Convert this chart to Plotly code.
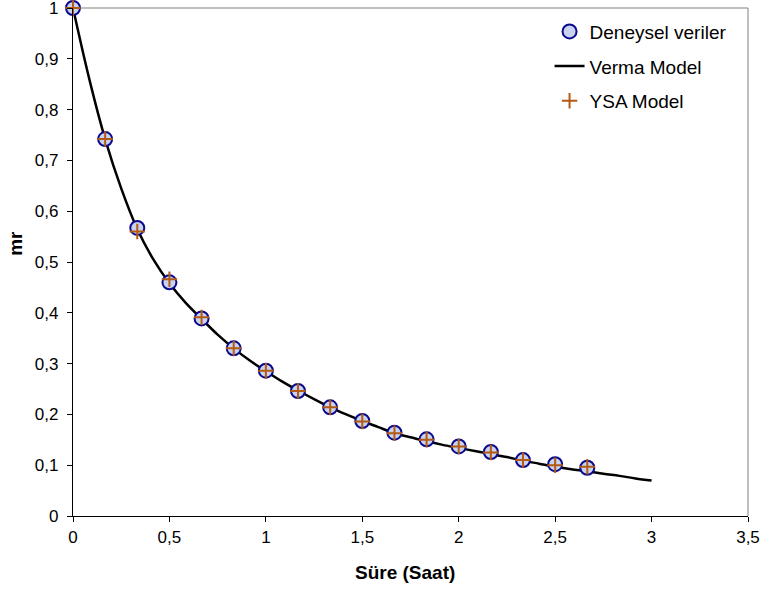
import plotly.graph_objects as go

# Experimental times (hours) and values
t_exp = [0, 0.1667, 0.3333, 0.5, 0.6667, 0.8333, 1.0, 1.1667, 1.3333, 1.5,
         1.6667, 1.8333, 2.0, 2.1667, 2.3333, 2.5, 2.6667]
mr_exp = [1.0, 0.742, 0.567, 0.460, 0.389, 0.330, 0.286, 0.246, 0.214, 0.187,
          0.164, 0.151, 0.137, 0.126, 0.110, 0.102, 0.095]
mr_ysa = [1.0, 0.742, 0.560, 0.466, 0.391, 0.330, 0.286, 0.246, 0.214, 0.186,
          0.163, 0.150, 0.137, 0.125, 0.110, 0.100, 0.097]

# Verma model curve
t_model = [0, 0.0833, 0.1667, 0.25, 0.3333, 0.4167, 0.5, 0.5833, 0.6667, 0.75,
           0.8333, 0.9167, 1.0, 1.0833, 1.1667, 1.25, 1.3333, 1.4167, 1.5, 1.5833,
           1.6667, 1.75, 1.8333, 1.9167, 2.0, 2.0833, 2.1667, 2.25, 2.3333, 2.4167,
           2.5, 2.5833, 2.6667, 2.75, 2.8333, 2.9167, 3.0]
mr_model = [1.0, 0.862, 0.742, 0.645, 0.565, 0.505, 0.458, 0.420, 0.388, 0.357,
            0.330, 0.306, 0.285, 0.265, 0.247, 0.230, 0.214, 0.200, 0.187, 0.175,
            0.163, 0.155, 0.147, 0.140, 0.134, 0.128, 0.122, 0.116, 0.109, 0.103,
            0.097, 0.092, 0.088, 0.083, 0.079, 0.074, 0.070]

# Tick positions
x_ticks = [0, 0.5, 1, 1.5, 2, 2.5, 3, 3.5]
y_ticks = [0, 0.1, 0.2, 0.3, 0.4, 0.5, 0.6, 0.7, 0.8, 0.9, 1]

x_title = "Süre (Saat)"
y_title = "mr"

FONT = "Liberation Sans, Arial, sans-serif"

fig = go.Figure()
fig.add_trace(go.Scatter(
    x=t_model, y=mr_model, mode="lines", name="Verma Model",
    line=dict(color="black", width=2.5, shape="spline"),
    cliponaxis=False, legendgroup="b", legendrank=2))
fig.add_trace(go.Scatter(
    x=t_exp, y=mr_exp, mode="markers", name="Deneysel veriler",
    marker=dict(symbol="circle", size=14, color="#c9d3ef",
                line=dict(color="#0a0a8c", width=2)),
    cliponaxis=False, legendgroup="a", legendrank=1))
fig.add_trace(go.Scatter(
    x=t_exp, y=mr_ysa, mode="markers", name="YSA Model",
    marker=dict(symbol="cross-thin", size=11,
                line=dict(color="#b35a14", width=2)),
    cliponaxis=False, legendgroup="c", legendrank=3))

fig.update_layout(
    width=766, height=596,
    margin=dict(l=73, r=18, t=8, b=80),
    paper_bgcolor="white", plot_bgcolor="white",
    separators=",.",
    font=dict(family=FONT, size=17, color="black"),
    showlegend=True,
    legend=dict(x=0.706, y=0.991, xanchor="left", yanchor="top",
                bgcolor="rgba(0,0,0,0)", font=dict(size=19),
                tracegroupgap=7, traceorder="grouped"),
    xaxis=dict(range=[0, 3.5], tickmode="array", tickvals=x_ticks,
               showgrid=False, zeroline=False, automargin=False,
               ticklabeloverflow="allow",
               showline=True, linecolor="black", linewidth=1.2,
               ticks="outside", ticklen=5, tickcolor="black"),
    yaxis=dict(range=[0, 1], tickmode="array", tickvals=y_ticks,
               showgrid=False, zeroline=False, automargin=False,
               ticklabeloverflow="allow", ticklabelstandoff=5,
               showline=True, linecolor="black", linewidth=1.2,
               ticks="outside", ticklen=5, tickcolor="black"),
    shapes=[
        dict(type="line", xref="paper", yref="paper", x0=0, x1=1, y0=1, y1=1,
             line=dict(color="#808080", width=1), layer="below"),
        dict(type="line", xref="paper", yref="paper", x0=1, x1=1, y0=0, y1=1,
             line=dict(color="#808080", width=1), layer="below"),
    ],
    annotations=[
        dict(text="<b>" + x_title + "</b>", xref="paper", yref="paper",
             x=0.492, y=-0.112, xanchor="center", yanchor="middle",
             showarrow=False, font=dict(size=19)),
        dict(text="<b>" + y_title + "</b>", xref="paper", yref="paper",
             x=-0.085, y=0.537, xanchor="center", yanchor="middle",
             textangle=-90, showarrow=False, font=dict(size=19)),
    ],
)

fig.write_html("out.html",
               config={"displayModeBar": False},
               post_script="document.body.style.margin='0';"
                           "document.body.style.overflow='hidden';")
